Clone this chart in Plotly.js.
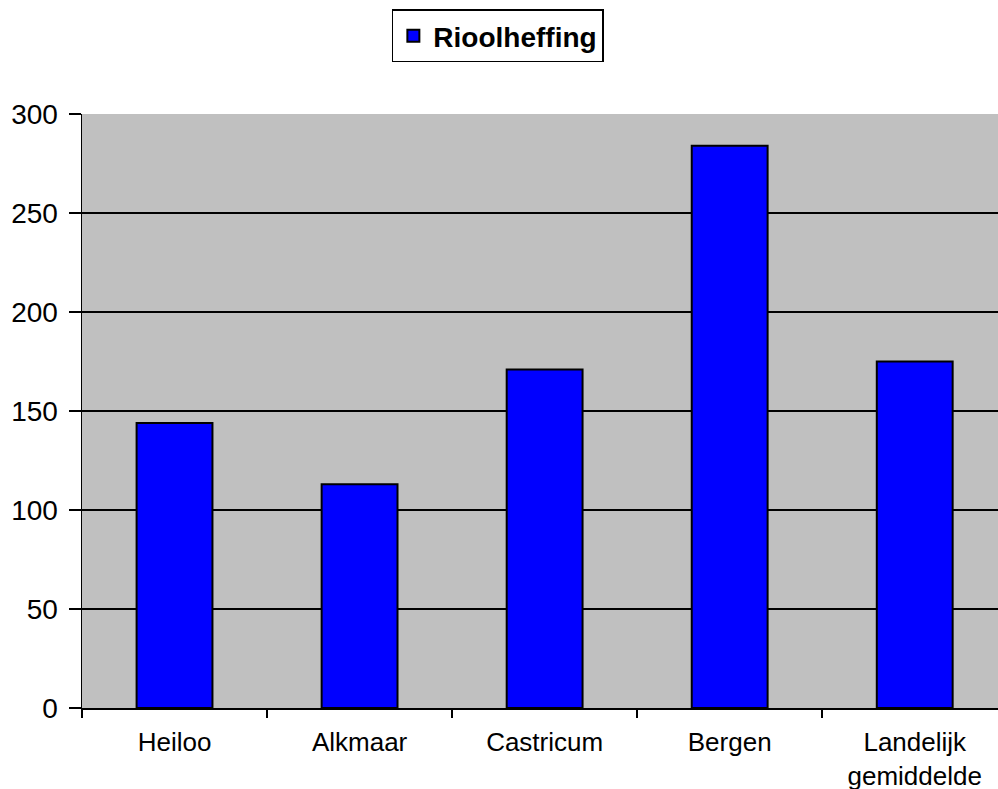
<!DOCTYPE html>
<html>
<head>
<meta charset="utf-8">
<script src="https://cdn.plot.ly/plotly-3.0.1.min.js"></script>
<style>html,body{margin:0;padding:0;background:#fff;overflow:hidden}#chart{width:998px;height:789px}</style>
</head>
<body>
<div id="chart"></div>
<script>
const categories = ["Heiloo", "Alkmaar", "Castricum", "Bergen", "Landelijk<br>gemiddelde"];
const values = [144, 113, 171, 284, 175];
const seriesName = "Rioolheffing";
const yTicks = [0, 50, 100, 150, 200, 250, 300];

const trace = {
  type: "bar",
  x: categories,
  y: values,
  name: seriesName,
  showlegend: true,
  marker: {color: "#0000ff", line: {color: "#000000", width: 2}}
};

const layout = {
  width: 998,
  height: 789,
  margin: {l: 82, r: 0, t: 114, b: 81, autoexpand: false},
  paper_bgcolor: "#ffffff",
  plot_bgcolor: "#c0c0c0",
  font: {family: "Liberation Sans, Arial, sans-serif", color: "#000000"},
  bargap: 0.59,
  showlegend: true,
  legend: {
    x: 0.454, xanchor: "center",
    y: 1.176, yanchor: "top",
    bgcolor: "#ffffff",
    bordercolor: "#000000",
    borderwidth: 1.5,
    font: {size: 28, family: "Liberation Sans, Arial, sans-serif", weight: "bold"},
    itemwidth: 30
  },
  xaxis: {
    type: "category",
    range: [-0.5, 4.45],
    showline: true,
    linecolor: "#000000",
    linewidth: 1.5,
    ticks: "outside",
    tickson: "boundaries",
    ticklen: 8,
    tickcolor: "#000000",
    tickwidth: 1.5,
    tickangle: 0,
    tickfont: {size: 26},
    ticklabelstandoff: 10,
    showgrid: false,
    zeroline: false
  },
  yaxis: {
    range: [0, 300],
    tickvals: yTicks,
    ticktext: yTicks.map(String),
    showline: true,
    linecolor: "#000000",
    linewidth: 1.5,
    ticks: "outside",
    ticklen: 12,
    tickcolor: "#000000",
    tickwidth: 1.5,
    tickfont: {size: 28},
    ticklabelstandoff: 5,
    showgrid: true,
    gridcolor: "#000000",
    gridwidth: 1.2,
    zeroline: false
  }
};

Plotly.newPlot("chart", [trace], layout, {displayModeBar: false, staticPlot: true});
</script>
</body>
</html>
